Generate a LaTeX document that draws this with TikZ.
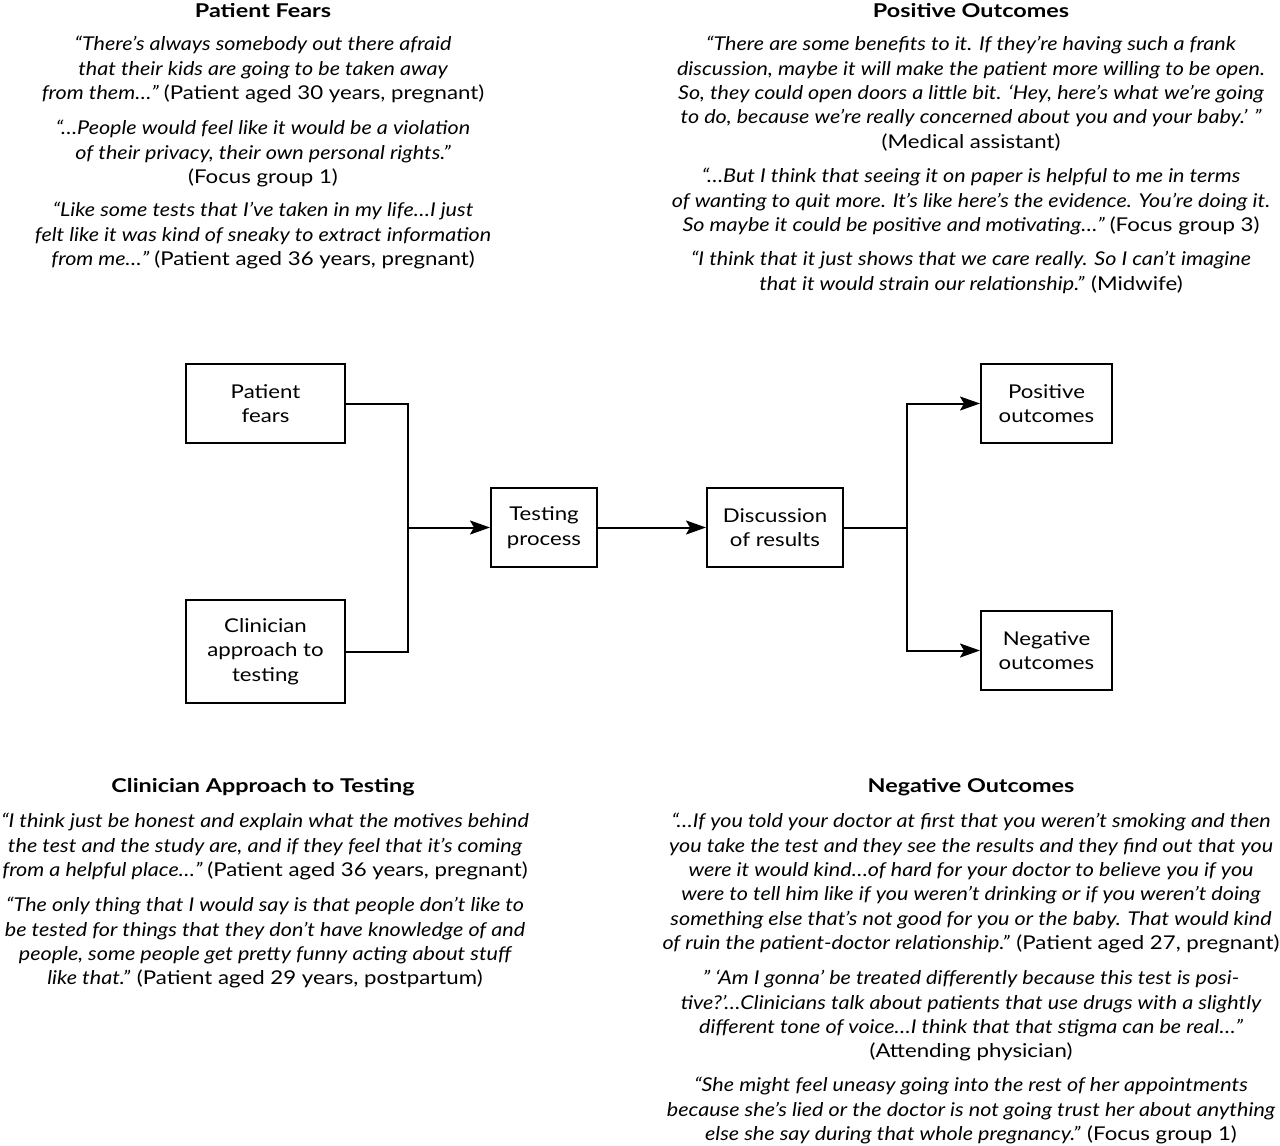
\documentclass[tikz,border=0pt]{standalone}
\usepackage{fontspec}
\setmainfont{Lato}[FakeStretch=1.17,
  ItalicFeatures={FakeStretch=1.135},
  BoldFeatures={FakeStretch=1.23}]
\usetikzlibrary{arrows.meta}
\newcommand{\qi}{\itshape}
\begin{document}
\begin{tikzpicture}[x=1pt,y=-1pt,
  qt/.style={align=center,inner sep=0pt,anchor=north,font=\fontsize{19}{24.4}\selectfont},
  hd/.style={inner sep=0pt,font=\fontsize{19}{24.4}\selectfont\bfseries},
  bx/.style={draw,line width=2pt,align=center,inner sep=0pt,font=\fontsize{19}{24.4}\selectfont},
  ln/.style={line width=2pt},
  arr/.style={line width=2pt,-{Stealth[length=20pt,width=14pt,inset=4pt]}}]
\useasboundingbox (0,0) rectangle (1280,1146);

% Headings
\node[hd] (hpf) at (263,11) {Patient Fears};
\node[hd] (hpo) at (971,11) {Positive Outcomes};
\node[hd] (hca) at (263,787) {Clinician Approach to Testing};
\node[hd] (hno) at (971,787) {Negative Outcomes};

% Patient fears quotes
\node[qt] (pf1) at (263,36) {\qi “There’s always somebody out there afraid\\
\qi that their kids are going to be taken away\\
\qi from them…” \upshape(Patient aged 30 years, pregnant)};
\node[qt] (pf2) at (263,120) {\qi “…People would feel like it would be a violation\\
\qi of their privacy, their own personal rights.”\\
(Focus group 1)};
\node[qt] (pf3) at (263,202) {\qi “Like some tests that I’ve taken in my life…I just\\
\qi felt like it was kind of sneaky to extract information\\
\qi from me…” \upshape(Patient aged 36 years, pregnant)};

% Positive outcomes quotes
\node[qt] (po1) at (971,36) {\qi “There are some benefits to it. If they’re having such a frank\\
\qi discussion, maybe it will make the patient more willing to be open.\\
\qi So, they could open doors a little bit. ‘Hey, here’s what we’re going\\
\qi to do, because we’re really concerned about you and your baby.’ ”\\
(Medical assistant)};
\node[qt] (po2) at (971,168) {\qi “…But I think that seeing it on paper is helpful to me in terms\\
\qi of wanting to quit more. It’s like here’s the evidence. You’re doing it.\\
\qi So maybe it could be positive and motivating…” \upshape(Focus group 3)};
\node[qt] (po3) at (971,251) {\qi “I think that it just shows that we care really. So I can’t imagine\\
\qi that it would strain our relationship.” \upshape(Midwife)};

% Clinician approach quotes
\node[qt] (ca1) at (265,813) {\qi “I think just be honest and explain what the motives behind\\
\qi the test and the study are, and if they feel that it’s coming\\
\qi from a helpful place…” \upshape(Patient aged 36 years, pregnant)};
\node[qt] (ca2) at (265,897) {\qi “The only thing that I would say is that people don’t like to\\
\qi be tested for things that they don’t have knowledge of and\\
\qi people, some people get pretty funny acting about stuff\\
\qi like that.” \upshape(Patient aged 29 years, postpartum)};

% Negative outcomes quotes
\node[qt] (no1) at (971,813) {\qi “…If you told your doctor at first that you weren’t smoking and then\\
\qi you take the test and they see the results and they find out that you\\
\qi were it would kind…of hard for your doctor to believe you if you\\
\qi were to tell him like if you weren’t drinking or if you weren’t doing\\
\qi something else that’s not good for you or the baby. That would kind\\
\qi of ruin the patient-doctor relationship.” \upshape(Patient aged 27, pregnant)};
\node[qt] (no2) at (971,970) {\qi ” ‘Am I gonna’ be treated differently because this test is posi-\\
\qi tive?’…Clinicians talk about patients that use drugs with a slightly\\
\qi different tone of voice…I think that that stigma can be real…”\\
(Attending physician)};
\node[qt] (no3) at (971,1077) {\qi “She might feel uneasy going into the rest of her appointments\\
\qi because she’s lied or the doctor is not going trust her about anything\\
\qi else she say during that whole pregnancy.” \upshape(Focus group 1)};

% Boxes
\node[bx,minimum width=159pt,minimum height=79pt] (pf) at (265.5,403.5) {Patient\\fears};
\node[bx,minimum width=159pt,minimum height=103pt] (cl) at (265.5,651.5) {Clinician\\approach to\\testing};
\node[bx,minimum width=106pt,minimum height=79pt] (tp) at (544,527.5) {Testing\\process};
\node[bx,minimum width=136pt,minimum height=79pt] (dr) at (775,527.5) {Discussion\\of results};
\node[bx,minimum width=131pt,minimum height=79pt] (po) at (1046.5,403.5) {Positive\\outcomes};
\node[bx,minimum width=131pt,minimum height=79pt] (no) at (1046.5,650.5) {Negative\\outcomes};

% Connectors
\coordinate (j1) at (408,527.5);
\coordinate (j2) at (907,527.5);
\draw[ln] (pf.east) -| (j1);
\draw[ln] (cl.east) -| (j1);
\draw[arr] (j1) -- (tp.west);
\draw[arr] (tp.east) -- (dr.west);
\draw[ln] (dr.east) -- (j2);
\draw[arr] (j2) |- (po.west);
\draw[arr] (j2) |- (no.west);
\end{tikzpicture}
\end{document}
